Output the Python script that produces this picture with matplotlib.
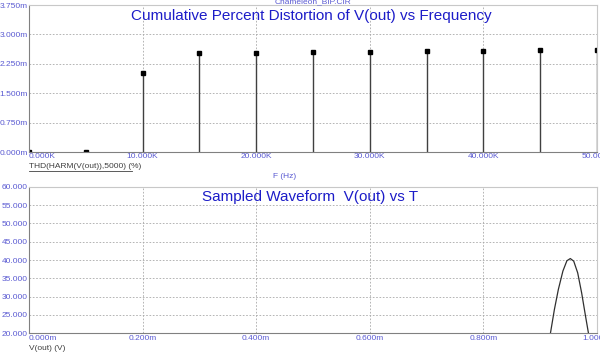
import matplotlib.pyplot as plt
from matplotlib.ticker import FixedLocator, FuncFormatter

plt.rcParams['font.family'] = ['Liberation Sans', 'DejaVu Sans']

# THD spectrum (values in milli-percent)
freq_k = [0, 5, 10, 15, 20, 25, 30, 35, 40, 45, 50]
thd_m = [0.0, 0.01, 2.01, 2.52, 2.52, 2.56, 2.56, 2.585, 2.585, 2.60, 2.60]
thd_ticks = [0.0, 0.75, 1.5, 2.25, 3.0, 3.75]
freq_ticks = [0, 10, 20, 30, 40, 50]

# sampled waveform (time in ms, volts)
t_ms = [0.912, 0.918, 0.925, 0.932, 0.940, 0.947, 0.953, 0.959, 0.966, 0.973, 0.980, 0.985, 0.990]
v_out = [15.0, 20.0, 26.5, 32.0, 37.0, 39.8, 40.4, 39.7, 36.5, 31.0, 24.5, 20.0, 15.5]
v_ticks = [20, 25, 30, 35, 40, 45, 50, 55, 60]
t_ticks = [0.0, 0.2, 0.4, 0.6, 0.8, 1.0]

title_blue = '#1c1cc8'
tick_blue = '#5a5ad2'
grid_gray = '#a8a8a8'

fig = plt.figure(figsize=(6.0, 3.53), dpi=100)
ax1 = fig.add_axes([0.0483, 0.5694, 0.9467, 0.4164])
ax2 = fig.add_axes([0.0483, 0.0558, 0.9467, 0.4152])


def style_axes(ax):
    for side in ['top', 'right']:
        ax.spines[side].set_color('#c8c8c8')
    for side in ['left', 'bottom']:
        ax.spines[side].set_color('#808080')
    for sp in ax.spines.values():
        sp.set_linewidth(0.8)
    ax.tick_params(axis='both', length=0, labelsize=6, labelcolor=tick_blue,
                   pad=1)
    ax.grid(True, color=grid_gray, linestyle=(0, (2, 2)), linewidth=0.6)
    ax.set_axisbelow(True)


# top: THD vs frequency
ax1.vlines(freq_k, 0, thd_m, color='#404040', linewidth=1.0)
ax1.plot(freq_k, thd_m, 's', color='black', markersize=2.8)
ax1.set_xlim(0, 50)
ax1.set_ylim(0, 3.75)
ax1.yaxis.set_major_locator(FixedLocator(thd_ticks))
ax1.xaxis.set_major_locator(FixedLocator(freq_ticks))
ax1.yaxis.set_major_formatter(FuncFormatter(lambda v, p: f'{v:.3f}m'))
ax1.xaxis.set_major_formatter(FuncFormatter(lambda v, p: f'{v:.3f}K'))
style_axes(ax1)
ax1.get_xticklabels()[0].set_horizontalalignment('left')
ax1.text(0.5, 1.02, 'Chameleon_BIP.CIR', transform=ax1.transAxes, ha='center',
         va='center', fontsize=6, color=tick_blue)
ax1.text(0.497, 0.925, 'Cumulative Percent Distortion of V(out) vs Frequency',
         transform=ax1.transAxes, ha='center', va='center', fontsize=11,
         color=title_blue)
fig.text(0.0483, 0.529, 'THD(HARM(V(out)),5000) (%)', ha='left', va='center',
         fontsize=6, color='#404040')
fig.add_artist(plt.Line2D([0.0483, 0.22], [0.515, 0.515], color='#404040',
                          linewidth=0.6))
fig.text(0.475, 0.501, 'F (Hz)', ha='center', va='center', fontsize=6,
         color=tick_blue)

# bottom: sampled waveform
ax2.plot(t_ms, v_out, color='#303030', linewidth=0.9)
ax2.set_xlim(0, 1.0)
ax2.set_ylim(20, 60)
ax2.yaxis.set_major_locator(FixedLocator(v_ticks))
ax2.xaxis.set_major_locator(FixedLocator(t_ticks))
ax2.yaxis.set_major_formatter(FuncFormatter(lambda v, p: f'{v:.3f}'))
ax2.xaxis.set_major_formatter(FuncFormatter(lambda v, p: f'{v:.3f}m'))
style_axes(ax2)
ax2.get_xticklabels()[0].set_horizontalalignment('left')
ax2.text(0.495, 0.93, 'Sampled Waveform  V(out) vs T', transform=ax2.transAxes,
         ha='center', va='center', fontsize=11, color=title_blue)
fig.text(0.0483, 0.012, 'V(out) (V)', ha='left', va='center', fontsize=6,
         color='#404040')

fig.savefig('out.png', dpi=100)
